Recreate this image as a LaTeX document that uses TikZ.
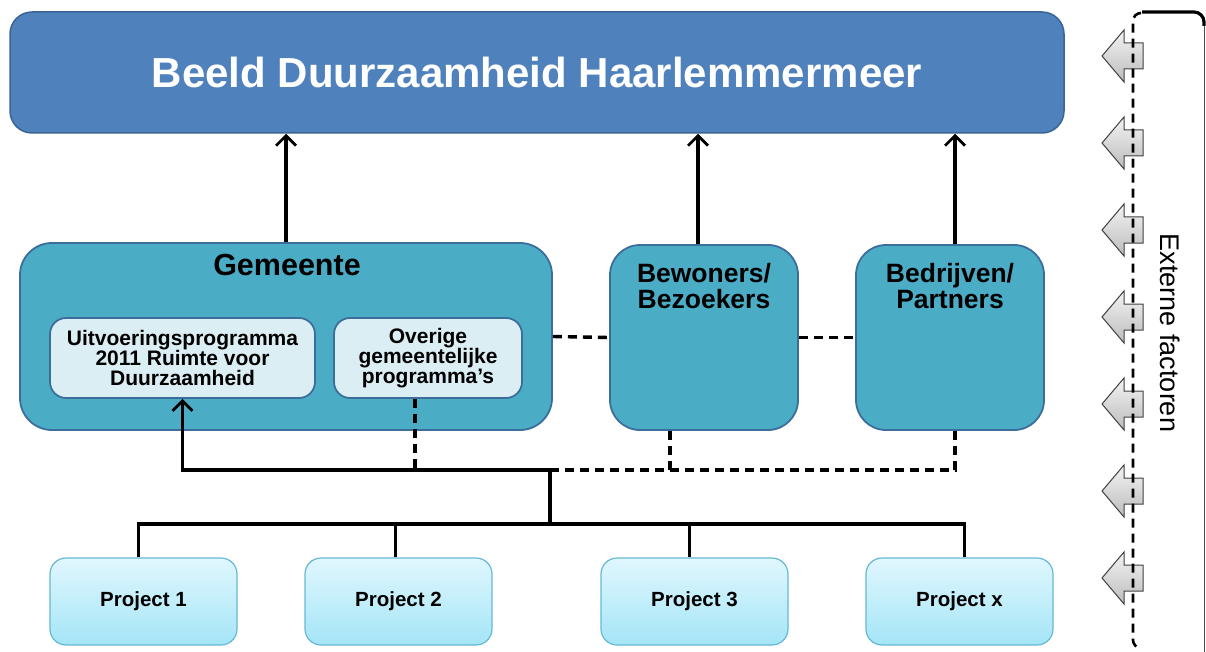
\documentclass[tikz,border=0pt]{standalone}
\usepackage{fontspec}
\setmainfont{Liberation Sans}
\usetikzlibrary{arrows.meta,calc}
\definecolor{titlefill}{HTML}{4F81BD}
\definecolor{titleedge}{HTML}{3A6592}
\definecolor{tealfill}{HTML}{4BACC6}
\definecolor{tealedge}{HTML}{3C6E9B}
\definecolor{innerfill}{HTML}{DBEEF4}
\definecolor{projtop}{HTML}{E0F7FE}
\definecolor{projbot}{HTML}{A4E5F7}
\definecolor{projedge}{HTML}{66B9D3}
\definecolor{arrtop}{HTML}{F2F2F2}
\definecolor{arrbot}{HTML}{BDBDBD}
\tikzset{
  titlebox/.style={draw=titleedge, line width=1.5pt, fill=titlefill, rounded corners=22pt,
    minimum width=1054pt, minimum height=121pt, text=white,
    font=\fontsize{42}{46}\selectfont\bfseries},
  tealbox/.style={draw=tealedge, line width=1.8pt, fill=tealfill, rounded corners=32pt},
  innerbox/.style={draw=tealedge, line width=1.8pt, fill=innerfill, rounded corners=16pt,
    align=center, font=\fontsize{21}{20}\selectfont\bfseries},
  projbox/.style={draw=projedge, line width=1.2pt, top color=projtop, bottom color=projbot,
    rounded corners=16pt, minimum width=187pt, minimum height=87pt,
    font=\fontsize{20.5}{22}\selectfont\bfseries},
  labeltext/.style={align=center, font=\fontsize{26.5}{26}\selectfont\bfseries},
  conn/.style={line width=3.4pt, black},
  arr/.style={conn, -{Straight Barb[length=10pt,width=20pt,line width=2.8pt]}},
  dl/.style={line width=3.4pt, black, dash pattern=on 9pt off 6pt},
  extarrow/.style={draw=black!75, line width=1pt, top color=arrtop, bottom color=arrbot}
}
\begin{document}
\begin{tikzpicture}[x=1pt,y=-1pt]
\useasboundingbox (0,0) rectangle (1206,652);

% main boxes
\node[titlebox] (title) at (537,72.5) {Beeld Duurzaamheid Haarlemmermeer};
\node[tealbox, minimum width=532pt, minimum height=187pt] (gem) at (286,336.5) {};
\node[labeltext, font=\fontsize{30.5}{30}\selectfont\bfseries] (gemt) at (287,265) {Gemeente};
\node[innerbox, minimum width=265pt, minimum height=80pt] (uit) at (182.5,358) {Uitvoeringsprogramma\\2011 Ruimte voor\\Duurzaamheid};
\node[innerbox, minimum width=188pt, minimum height=80pt] (ove) at (428,358) {Overige\\gemeentelijke\\programma’s};
\node[tealbox, rounded corners=30pt, minimum width=188pt, minimum height=185pt] (bew) at (704,337.5) {};
\node[labeltext] (bewt) at (704,286) {Bewoners/\\Bezoekers};
\node[tealbox, rounded corners=30pt, minimum width=188pt, minimum height=185pt] (bed) at (950,337.5) {};
\node[labeltext] (bedt) at (950,286) {Bedrijven/\\Partners};

% projects
\node[projbox] (p1) at (143.5,601.5) {Project 1};
\node[projbox] (p2) at (398.5,601.5) {Project 2};
\node[projbox] (p3) at (694.5,601.5) {Project 3};
\node[projbox] (p4) at (959.5,601.5) {Project x};

% helper coordinates
\coordinate (hub) at (550,470);
\coordinate (bus) at (550,524);
\coordinate (bewb) at ($(bew.south)+(-34,0)$);
\coordinate (bedb) at ($(bed.south)+(5,0)$);
\coordinate (oveb) at ($(ove.south)+(-13,0)$);
\coordinate (bewn) at ($(bew.north)+(-6,0)$);
\coordinate (bedn) at ($(bed.north)+(5,0)$);
\coordinate (p1n) at ($(p1.north)+(-5,0)$);
\coordinate (p2n) at ($(p2.north)+(-3,0)$);
\coordinate (p3n) at ($(p3.north)+(-5,0)$);
\coordinate (p4n) at ($(p4.north)+(5,0)$);

% upward arrows
\draw[arr] (gem.north) -- (gem.north |- title.south);
\draw[arr] (bewn) -- (bewn |- title.south);
\draw[arr] (bedn) -- (bedn |- title.south);

% dashed horizontal links
\draw[dl] (gem.east) -- (bew.west);
\draw[dl] (bew.east) -- (bed.west);

% project bus
\draw[conn] (p1n) -- (p1n |- bus) -- (p4n |- bus) -- (p4n);
\draw[conn] (p2n) -- (p2n |- bus);
\draw[conn] (p3n) -- (p3n |- bus);
\draw[conn] (bus) -- (hub);
\draw[arr] (hub) -| (uit.south);
\draw[dl] (oveb) -- (oveb |- hub);
\draw[dl] (hub) -- (bedb |- hub) -- (bedb);
\draw[dl] (bewb) -- (bewb |- hub);

% external factors
\foreach \yy in {56,143,230,317,404,491,578}{
  \path[extarrow] (1102,\yy) -- (1124,\yy-26) -- (1124,\yy-13) -- (1143,\yy-13)
     -- (1143,\yy+13) -- (1124,\yy+13) -- (1124,\yy+26) -- cycle;
}
\draw[line width=2.6pt, dash pattern=on 9pt off 6pt, rounded corners=8pt] (1141,13) -- (1133,13) -- (1133,648) -- (1141,648);
\draw[line width=1pt, black!70] (1204.5,24) -- (1204.5,652);
\draw[line width=3.2pt, rounded corners=10pt] (1142,12) -- (1204,12) -- (1204,26);
\node[rotate=-90, font=\fontsize{27}{27}\selectfont] (ext) at (1170,333) {Externe factoren};
\end{tikzpicture}
\end{document}
